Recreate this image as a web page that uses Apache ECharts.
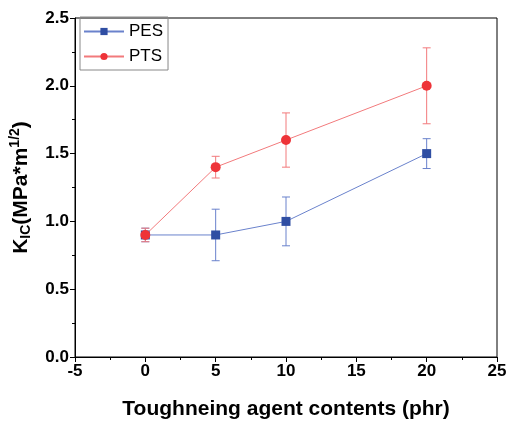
<!DOCTYPE html>
<html>
<head>
<meta charset="utf-8">
<script src="https://cdn.jsdelivr.net/npm/echarts@6/dist/echarts.min.js"></script>
<style>
html,body{margin:0;padding:0;background:#fff;}
#main{width:508px;height:423px;}
</style>
</head>
<body>
<div id="main"></div>
<script>
var xVals = [0, 5, 10, 20];
var pesMean = [0.9, 0.9, 1.0, 1.5];
var pesErr = [0.05, 0.19, 0.18, 0.11];
var ptsMean = [0.9, 1.4, 1.6, 2.0];
var ptsErr = [0.05, 0.08, 0.2, 0.28];

var blue = '#2f4ea3', blueLine = '#6a82cc';
var red = '#ee3338', redLine = '#f27a7c';
var font = 'Liberation Sans, Arial, sans-serif';

function pts(mean) {
    var out = [];
    for (var i = 0; i < xVals.length; i++) out.push([xVals[i], mean[i]]);
    return out;
}
function errs(mean, err) {
    var out = [];
    for (var i = 0; i < xVals.length; i++) out.push([xVals[i], mean[i] - err[i], mean[i] + err[i]]);
    return out;
}
function errorBar(color) {
    return function (params, api) {
        var lo = api.coord([api.value(0), api.value(1)]);
        var hi = api.coord([api.value(0), api.value(2)]);
        var w = 4;
        var st = {stroke: color, lineWidth: 1};
        return {
            type: 'group',
            children: [
                {type: 'line', shape: {x1: lo[0], y1: lo[1], x2: hi[0], y2: hi[1]}, style: st},
                {type: 'line', shape: {x1: lo[0] - w, y1: lo[1], x2: lo[0] + w, y2: lo[1]}, style: st},
                {type: 'line', shape: {x1: hi[0] - w, y1: hi[1], x2: hi[0] + w, y2: hi[1]}, style: st}
            ]
        };
    };
}

var chart = echarts.init(document.getElementById('main'));
chart.setOption({
    animation: false,
    grid: {left: 75, right: 11, top: 18, bottom: 66, outerBoundsMode: 'none', containLabel: false,
        show: true, borderColor: '#000', borderWidth: 1},
    legend: {
        left: 80, top: 17, orient: 'vertical',
        data: ['PES', 'PTS'],
        itemWidth: 40, itemHeight: 9, itemGap: 8,
        padding: [6, 5, 5, 3],
        borderColor: '#888', borderWidth: 1,
        textStyle: {fontFamily: font, fontSize: 17, color: '#000'}
    },
    xAxis: {
        type: 'value', min: -5, max: 25, interval: 5,
        axisLine: {onZero: false, lineStyle: {color: '#000'}},
        axisTick: {length: 5, lineStyle: {color: '#000'}},
        minorTick: {show: true, splitNumber: 2, length: 3, lineStyle: {color: '#000'}},
        splitLine: {show: false},
        axisLabel: {fontFamily: font, fontWeight: 'bold', fontSize: 17, color: '#000', margin: 6},
        name: 'Toughneing agent contents (phr)',
        nameLocation: 'middle', nameGap: 42,
        nameTextStyle: {fontFamily: font, fontWeight: 'bold', fontSize: 21, color: '#000'}
    },
    yAxis: {
        type: 'value', min: 0, max: 2.5, interval: 0.5,
        axisLine: {show: true, onZero: false, lineStyle: {color: '#000'}},
        axisTick: {show: true, length: 5, lineStyle: {color: '#000'}},
        minorTick: {show: true, splitNumber: 2, length: 3, lineStyle: {color: '#000'}},
        splitLine: {show: false},
        axisLabel: {fontFamily: font, fontWeight: 'bold', fontSize: 17, color: '#000', margin: 6,
            formatter: function (v) { return v.toFixed(1); }},
        name: '{b|K}{s|IC}{b|(MPa*m}{p|1/2}{b|)}',
        nameLocation: 'middle', nameGap: 39,
        nameTextStyle: {
            rich: {
                b: {fontFamily: font, fontWeight: 'bold', fontSize: 21, color: '#000', lineHeight: 30},
                s: {fontFamily: font, fontWeight: 'bold', fontSize: 14, color: '#000', lineHeight: 30, padding: [11, 0, 0, 0]},
                p: {fontFamily: font, fontWeight: 'bold', fontSize: 14, color: '#000', lineHeight: 30, padding: [0, 0, 11, 0]}
            }
        }
    },
    series: [
        {
            name: 'PES', type: 'line', data: pts(pesMean),
            symbol: 'rect', symbolSize: 9,
            itemStyle: {color: blue},
            lineStyle: {color: blueLine, width: 1},
            z: 3
        },
        {
            name: 'PTS', type: 'line', data: pts(ptsMean),
            symbol: 'circle', symbolSize: 10,
            itemStyle: {color: red},
            lineStyle: {color: redLine, width: 1},
            z: 4
        },
        {
            name: 'PES err', type: 'custom', data: errs(pesMean, pesErr),
            renderItem: errorBar(blueLine), encode: {x: 0, y: [1, 2]}, z: 2
        },
        {
            name: 'PTS err', type: 'custom', data: errs(ptsMean, ptsErr),
            renderItem: errorBar(redLine), encode: {x: 0, y: [1, 2]}, z: 2
        }
    ]
});
</script>
</body>
</html>
